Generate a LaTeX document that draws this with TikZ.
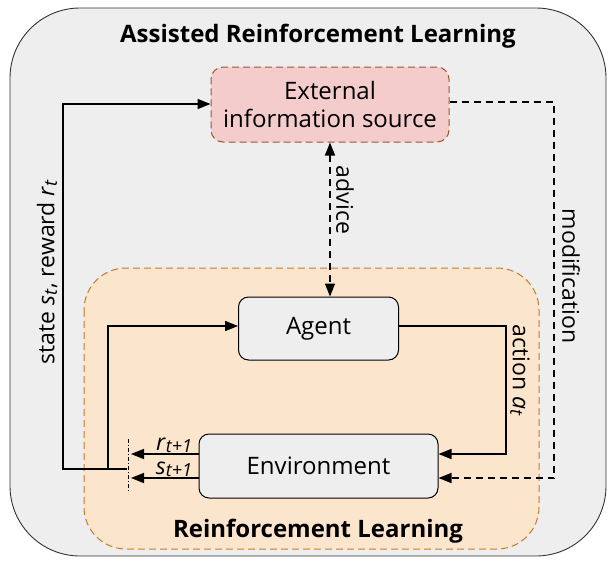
\documentclass[tikz,border=0pt]{standalone}
\usepackage{fontspec}
\setmainfont{Open Sans}
\usetikzlibrary{arrows.meta,calc}
\definecolor{outerfill}{HTML}{EEEEEE}
\definecolor{extfill}{HTML}{F4CCCC}
\definecolor{extborder}{HTML}{99582A}
\definecolor{rlfill}{HTML}{FCE5CD}
\definecolor{rlborder}{HTML}{C67A2E}
\definecolor{boxfill}{HTML}{EEEEEE}
\newcommand\mysub[1]{\raisebox{-2.5pt}{\fontsize{18}{20}\selectfont\textit{#1}}}
\tikzset{
  boxnode/.style={draw=black, fill=boxfill, rounded corners=10pt, line width=1pt, font=\fontsize{24}{28}\selectfont, inner sep=0pt},
  extnode/.style={draw=extborder, fill=extfill, dashed, dash pattern=on 7pt off 4pt, rounded corners=12pt, line width=1pt, align=center, font=\fontsize{24}{28}\selectfont, inner sep=0pt},
  conn/.style={line width=1.6pt, -{Triangle[length=13pt,width=10pt]}},
  dconn/.style={conn, dash pattern=on 7pt off 5pt},
  lab/.style={font=\fontsize{23}{26}\selectfont, inner sep=0pt},
  sublab/.style={font=\fontsize{23}{26}\selectfont, inner sep=0pt},
  titlelab/.style={font=\fontsize{24}{28}\selectfont\bfseries, inner sep=0pt},
}
\begin{document}
\begin{tikzpicture}[x=1pt,y=-1pt]
\useasboundingbox (0,0) rectangle (609,560);
% outer
\draw[fill=outerfill, draw=black!80, line width=0.9pt, rounded corners=70pt] (10,8) rectangle (606,556);
\node[titlelab] (title) at (318,36) {Assisted Reinforcement Learning};
% inner RL
\draw[fill=rlfill, draw=rlborder, line width=1pt, dash pattern=on 7pt off 4pt, rounded corners=42pt] (84,268) rectangle (539,549);
\node[titlelab] (rltitle) at (318,531) {Reinforcement Learning};
% nodes
\node[extnode, minimum width=238pt, minimum height=75pt] (ext) at (330,104.5) {External\\information source};
\node[boxnode, minimum width=160pt, minimum height=63pt] (agent) at (318.5,328.5) {Agent};
\node[boxnode, minimum width=239pt, minimum height=64pt] (env) at (318.5,466) {Environment};
% coordinates
\coordinate (rt) at (131,454);
\coordinate (st) at (131,478);
\coordinate (ddtop) at (128,439);
\coordinate (ddbot) at (128,493);
\coordinate (join) at (127,469);
\coordinate (sx) at (63,469);
\coordinate (ax) at (108,469);
\coordinate (ac) at (506,454);
\coordinate (mo) at (554,478);
% dash-dot separator
\draw[line width=0.6pt, dash pattern=on 4pt off 2pt on 1pt off 2pt] (ddtop) -- (ddbot);
% env outputs
\draw[conn] (env.west |- rt) -- (rt);
\draw[conn] (env.west |- st) -- (st);
\node[sublab, anchor=base] (rlab) at (174,450) {\textit{r}\mysub{t+1}};
\node[sublab, anchor=base] (slab) at (174,474) {\textit{s}\mysub{t+1}};
% state/reward feedback
\draw[conn] (join) -- (sx) |- (ext.west |- 0,104);
\draw[conn] (ax) |- (agent.west |- 0,326);
\node[lab, rotate=90] (srlab) at (47,272) {state \textit{s}\mysub{t}, reward \textit{r}\mysub{t}};
% action
\draw[conn] (agent.east |- 0,326) -| (ac) -- (env.east |- ac);
\node[lab, rotate=-90] (aclab) at (520,370) {action \textit{a}\mysub{t}};
% modification
\draw[dconn] (ext.east |- 0,102) -| (mo) -- (env.east |- mo);
\node[lab, rotate=-90] (molab) at (571,276) {modification};
% advice
\draw[dconn, {Triangle[length=13pt,width=10pt]}-{Triangle[length=13pt,width=10pt]}] (ext.south) -- (ext.south |- agent.north);
\node[lab, rotate=-90] (advlab) at (345,200) {advice};
\end{tikzpicture}
\end{document}
